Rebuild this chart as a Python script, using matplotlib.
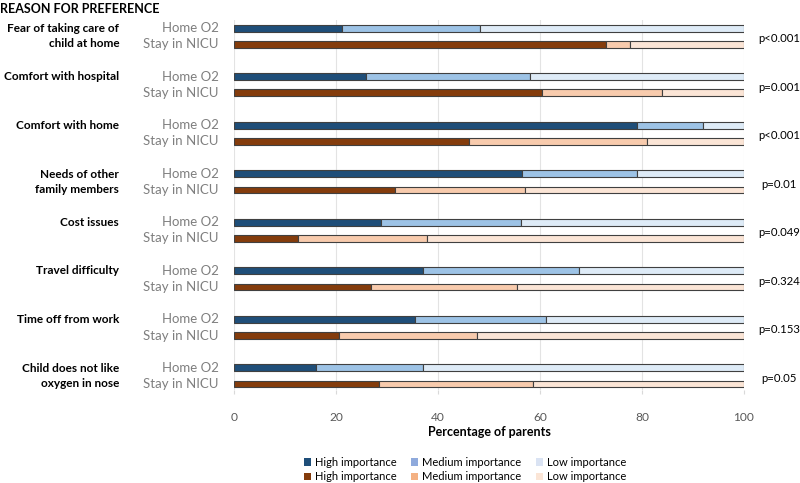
import matplotlib.pyplot as plt
from matplotlib.patches import Patch
import numpy as np

# reasons (top to bottom)
reasons = ['Fear of taking care of\nchild at home', 'Comfort with hospital', 'Comfort with home',
           'Needs of other\nfamily members', 'Cost issues', 'Travel difficulty',
           'Time off from work', 'Child does not like\noxygen in nose']
p_values = ['p<0.001', 'p=0.001', 'p<0.001', 'p=0.01', 'p=0.049', 'p=0.324', 'p=0.153', 'p=0.05']

# percentages for high / medium importance (low is the rest up to 100)
home_high = [21.2, 25.9, 79.0, 56.4, 28.9, 37.0, 35.4, 16.1]
home_med = [27.1, 32.1, 12.9, 22.6, 27.4, 30.6, 25.8, 20.9]
nicu_high = [73.0, 60.3, 46.0, 31.6, 12.5, 26.9, 20.6, 28.5]
nicu_med = [4.6, 23.7, 34.9, 25.4, 25.4, 28.6, 27.0, 30.1]

home_colors = ['#1f4e79', '#9dc3e6', '#deebf7']
nicu_colors = ['#843c0c', '#f8cbad', '#fbe5d6']

fig = plt.figure(figsize=(8, 4.83), dpi=100)
ax = fig.add_axes([0.2925, 0.1925, 0.6375, 0.766])

n = len(reasons)
y_home = np.arange(n) * 3
y_nicu = y_home + 1
h = 0.42
edge = dict(edgecolor='#404040', linewidth=0.8)

home_low = [100 - a - b for a, b in zip(home_high, home_med)]
nicu_low = [100 - a - b for a, b in zip(nicu_high, nicu_med)]

ax.barh(y_home, home_high, h, color=home_colors[0], **edge, zorder=3)
ax.barh(y_home, home_med, h, left=home_high, color=home_colors[1], **edge, zorder=3)
ax.barh(y_home, home_low, h, left=np.add(home_high, home_med), color=home_colors[2], **edge, zorder=3)
ax.barh(y_nicu, nicu_high, h, color=nicu_colors[0], **edge, zorder=3)
ax.barh(y_nicu, nicu_med, h, left=nicu_high, color=nicu_colors[1], **edge, zorder=3)
ax.barh(y_nicu, nicu_low, h, left=np.add(nicu_high, nicu_med), color=nicu_colors[2], **edge, zorder=3)

ax.set_xlim(0, 100)
ax.set_ylim(y_nicu[-1] + 0.37, -0.5)
ax.set_xticks([0, 20, 40, 60, 80, 100])
ax.set_yticks([])
ax.grid(axis='x', color='#e3e3e3', linewidth=0.8, zorder=0)
for s in ['top', 'right', 'left', 'bottom']:
    ax.spines[s].set_visible(False)
ax.tick_params(axis='x', colors='#595959', labelsize=8.6, length=3, pad=13, color='#d9d9d9')
for lbl in ax.get_xticklabels():
    lbl.set_fontfamily('Lato')
ax.set_xlabel('Percentage of parents', fontsize=9, fontweight='bold', family='Lato', labelpad=2)

for i in range(n):
    ax.text(-3, y_home[i], 'Home O2', ha='right', va='center', color='#7f7f7f',
            fontsize=9.5, family='Lato')
    ax.text(-3, y_nicu[i], 'Stay in NICU', ha='right', va='center', color='#7f7f7f',
            fontsize=9.5, family='Lato')
    yc = (y_home[i] + y_nicu[i]) / 2 if '\n' in reasons[i] else y_home[i]
    ax.text(-22.5, yc, reasons[i], ha='right', va='center', fontsize=8.5, fontweight='bold',
            family='Lato', linespacing=1.5)
    ax.text(106.9, (y_home[i] + y_nicu[i]) / 2 + 0.15, p_values[i], ha='center', va='center',
            fontsize=8.2, family='Lato')

fig.text(0.0, 0.982, 'REASON FOR PREFERENCE', ha='left', va='center', fontsize=9,
         fontweight='bold', family='Lato')

leg_labels = ['High importance', 'High importance', 'Medium importance', 'Medium importance',
              'Low importance', 'Low importance']
leg_colors = ['#1f4e79', '#843c0c', '#8faadc', '#f4b183', '#dae3f3', '#fbe5d6']
handles = [Patch(facecolor=c, edgecolor='none') for c in leg_colors]
fig.legend(handles, leg_labels, ncol=3, loc='center', bbox_to_anchor=(0.581, 0.028),
           frameon=False, prop={'family': 'Lato', 'size': 8}, handlelength=0.65,
           handleheight=0.65, handletextpad=0.35, columnspacing=1.3, labelspacing=0.3,
           borderpad=0)

fig.savefig('out.png', dpi=100)
